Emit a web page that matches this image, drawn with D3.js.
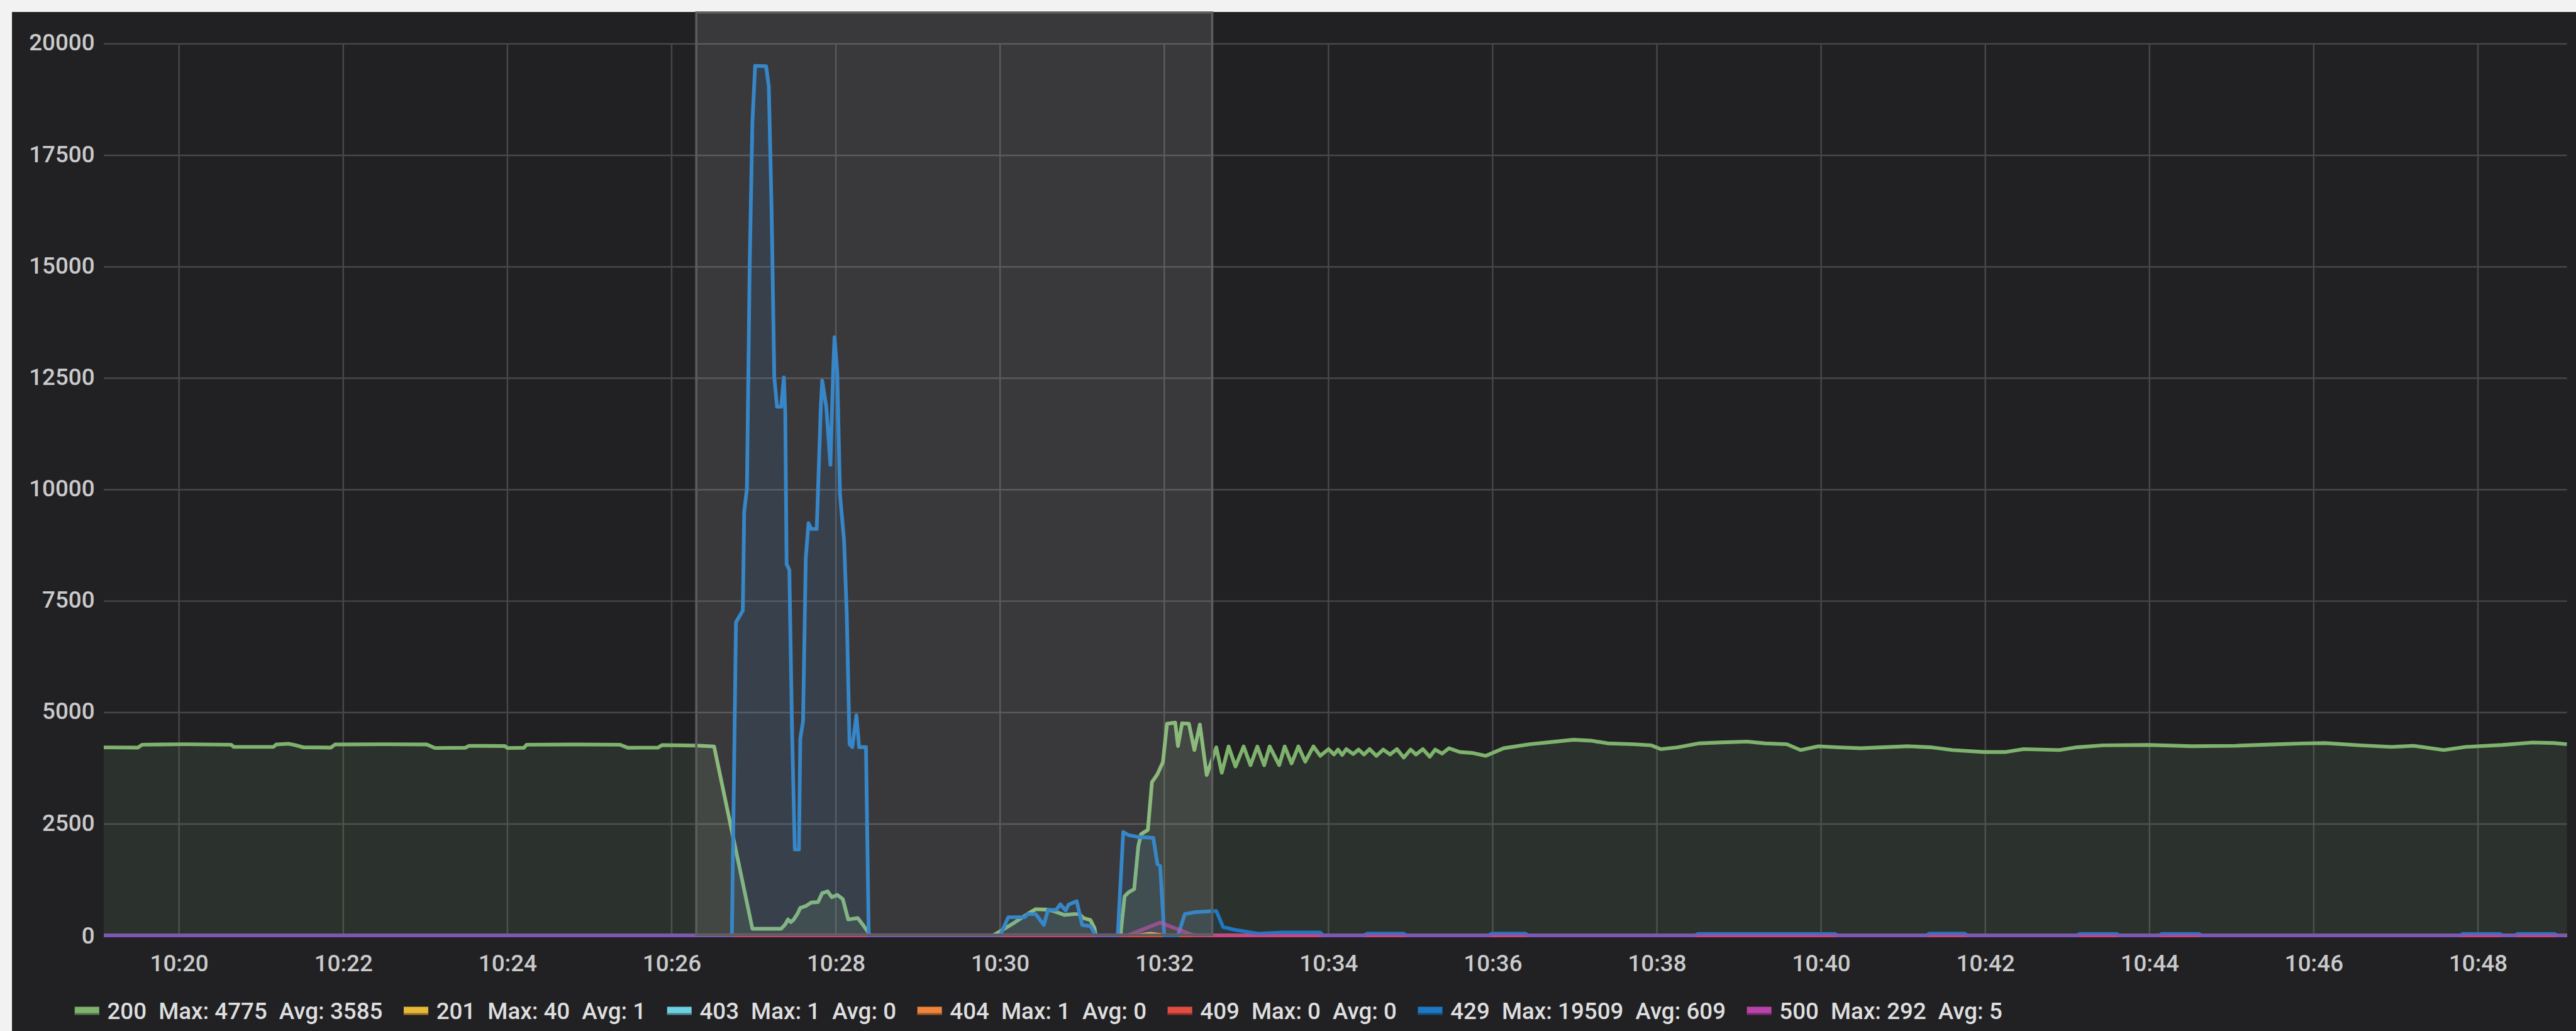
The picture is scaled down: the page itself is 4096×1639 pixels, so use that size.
<!DOCTYPE html>
<html lang="en">
<head>
<meta charset="UTF-8">
<title>HTTP status codes</title>
<script src="https://d3js.org/d3.v7.min.js"></script>
<style>
  html, body { margin: 0; padding: 0; background: #f2f2f2; overflow: hidden; }
  svg { display: block; }
  text { font-family: Roboto, "Helvetica Neue", Arial, sans-serif; }
</style>
</head>
<body>
<svg id="chart" width="4096" height="1639"></svg>
<script>

// series names, legend stats
var seriesNames = ["200", "201", "403", "404", "409", "429", "500"]
var legendMax = [4775, 40, 1, 1, 0, 19509, 292]
var legendAvg = [3585, 1, 0, 0, 0, 609, 5]
var palette = ["#7eb26d", "#eab839", "#6ed0e0", "#ef843c", "#e24d42", "#1f78c1", "#ba43a9"]

var timeRange = ["10:19:05", "10:49:05"]
var selection = ["10:26:18", "10:32:35"]
var yTicks = [0, 2500, 5000, 7500, 10000, 12500, 15000, 17500, 20000]

var s200 = [
  ["10:19:05", 4220], ["10:19:30", 4215], ["10:19:33", 4280], ["10:20:05", 4290], ["10:20:38", 4280],
  ["10:20:40", 4230], ["10:21:09", 4230], ["10:21:11", 4285], ["10:21:20", 4300], ["10:21:25", 4270],
  ["10:21:31", 4220], ["10:21:51", 4215], ["10:21:54", 4285], ["10:22:30", 4290], ["10:23:01", 4285],
  ["10:23:07", 4205], ["10:23:29", 4210], ["10:23:32", 4255], ["10:23:58", 4250], ["10:24:00", 4205],
  ["10:24:12", 4210], ["10:24:14", 4280], ["10:24:50", 4285], ["10:25:22", 4280], ["10:25:28", 4210],
  ["10:25:50", 4215], ["10:25:53", 4270], ["10:26:18", 4260], ["10:26:31", 4240],
  ["10:26:59", 150], ["10:27:20", 150], ["10:27:23", 250], ["10:27:25", 360], ["10:27:27", 300],
  ["10:27:29", 350], ["10:27:32", 490], ["10:27:34", 620], ["10:27:38", 660], ["10:27:42", 740],
  ["10:27:47", 750], ["10:27:50", 950], ["10:27:54", 990], ["10:27:57", 860], ["10:28:01", 910],
  ["10:28:05", 820], ["10:28:09", 360], ["10:28:16", 390], ["10:28:20", 230], ["10:28:23", 100],
  ["10:28:25", 0], ["10:29:55", 0], ["10:30:02", 130], ["10:30:11", 300], ["10:30:21", 500],
  ["10:30:26", 590], ["10:30:34", 580], ["10:30:39", 550], ["10:30:47", 460], ["10:30:54", 480],
  ["10:30:58", 480], ["10:31:01", 390], ["10:31:06", 345], ["10:31:09", 165], ["10:31:10", 0],
  ["10:31:28", 0], ["10:31:31", 880], ["10:31:34", 970], ["10:31:38", 1040], ["10:31:41", 2000],
  ["10:31:43", 2270], ["10:31:48", 2370], ["10:31:51", 3440], ["10:31:55", 3620], ["10:31:59", 3890],
  ["10:32:02", 4750], ["10:32:08", 4775], ["10:32:10", 4250], ["10:32:13", 4760], ["10:32:18", 4750],
  ["10:32:22", 4160], ["10:32:26", 4730], ["10:32:31", 3600], ["10:32:38", 4220], ["10:32:42", 3650],
  ["10:32:47", 4240], ["10:32:52", 3790], ["10:32:58", 4240], ["10:33:03", 3820], ["10:33:08", 4240],
  ["10:33:13", 3820], ["10:33:17", 4240], ["10:33:24", 3820], ["10:33:28", 4240], ["10:33:33", 3860],
  ["10:33:38", 4240], ["10:33:43", 3900], ["10:33:49", 4240], ["10:33:54", 4030], ["10:34:00", 4180],
  ["10:34:04", 4060], ["10:34:07", 4170], ["10:34:10", 4050], ["10:34:13", 4180], ["10:34:18", 4070],
  ["10:34:22", 4170], ["10:34:26", 4060], ["10:34:30", 4180], ["10:34:35", 4030], ["10:34:40", 4170],
  ["10:34:45", 4060], ["10:34:50", 4180], ["10:34:55", 3990], ["10:35:00", 4170], ["10:35:04", 4060],
  ["10:35:09", 4180], ["10:35:14", 4010], ["10:35:18", 4170], ["10:35:23", 4080], ["10:35:28", 4200],
  ["10:35:36", 4115], ["10:35:45", 4095], ["10:35:55", 4030], ["10:36:08", 4200], ["10:36:27", 4290],
  ["10:36:40", 4330], ["10:36:59", 4390], ["10:37:12", 4370], ["10:37:24", 4310], ["10:37:43", 4290],
  ["10:37:56", 4265], ["10:38:03", 4180], ["10:38:15", 4220], ["10:38:31", 4310], ["10:38:47", 4330],
  ["10:39:06", 4350], ["10:39:19", 4310], ["10:39:35", 4290], ["10:39:45", 4160], ["10:39:58", 4245],
  ["10:40:13", 4220], ["10:40:29", 4200], ["10:40:45", 4222], ["10:41:04", 4245], ["10:41:20", 4222],
  ["10:41:36", 4160], ["10:41:59", 4116], ["10:42:15", 4116], ["10:42:28", 4180], ["10:42:54", 4160],
  ["10:43:07", 4222], ["10:43:26", 4265], ["10:43:59", 4275], ["10:44:31", 4245], ["10:45:03", 4255],
  ["10:45:29", 4285], ["10:45:52", 4308], ["10:46:08", 4316], ["10:46:34", 4265], ["10:46:57", 4230],
  ["10:47:13", 4255], ["10:47:35", 4160], ["10:47:51", 4230], ["10:48:18", 4275], ["10:48:40", 4329],
  ["10:48:56", 4316], ["10:49:05", 4290]
]

var s201 = [["10:19:05", 0], ["10:31:40", 0], ["10:31:50", 40], ["10:32:00", 0], ["10:49:05", 0]]
var s403 = [["10:19:05", 0], ["10:27:25", 0], ["10:27:30", 1], ["10:27:35", 0], ["10:49:05", 0]]
var s404 = [["10:19:05", 0], ["10:31:50", 0], ["10:31:55", 1], ["10:32:00", 0], ["10:49:05", 0]]
var s409 = [["10:19:05", 0], ["10:49:05", 0]]

var s429 = [
  ["10:19:05", 0], ["10:26:44", 0], ["10:26:47", 7025], ["10:26:52", 7290], ["10:26:53", 9500],
  ["10:26:55", 10030], ["10:26:57", 15000], ["10:26:59", 18260], ["10:27:01", 19509], ["10:27:09", 19500],
  ["10:27:11", 19040], ["10:27:13", 16300], ["10:27:15", 12520], ["10:27:17", 11860], ["10:27:20", 11860],
  ["10:27:22", 12520], ["10:27:23", 11730], ["10:27:24", 8330], ["10:27:26", 8200], ["10:27:28", 4555],
  ["10:27:30", 1930], ["10:27:33", 1930], ["10:27:34", 4415], ["10:27:36", 4810], ["10:27:38", 8470],
  ["10:27:40", 9250], ["10:27:42", 9120], ["10:27:46", 9120], ["10:27:49", 11860], ["10:27:50", 12450],
  ["10:27:53", 11860], ["10:27:56", 10560], ["10:27:58", 12640], ["10:27:59", 13420], ["10:28:01", 12640],
  ["10:28:03", 9900], ["10:28:06", 8850], ["10:28:08", 7166], ["10:28:10", 4290], ["10:28:12", 4225],
  ["10:28:15", 4940], ["10:28:17", 4225], ["10:28:22", 4225], ["10:28:24", 0],
  ["10:30:00", 0], ["10:30:06", 410], ["10:30:18", 410], ["10:30:20", 480], ["10:30:26", 480],
  ["10:30:32", 235], ["10:30:35", 575], ["10:30:41", 575], ["10:30:44", 700], ["10:30:48", 560],
  ["10:30:50", 690], ["10:30:56", 770], ["10:31:00", 235], ["10:31:06", 210], ["10:31:10", 0],
  ["10:31:26", 0], ["10:31:30", 2320], ["10:31:34", 2250], ["10:31:41", 2210], ["10:31:52", 2190],
  ["10:31:55", 1600], ["10:31:57", 1560], ["10:32:00", 0], ["10:32:10", 0], ["10:32:15", 480],
  ["10:32:23", 525], ["10:32:38", 550], ["10:32:43", 190], ["10:32:51", 130], ["10:33:09", 40],
  ["10:33:25", 65], ["10:33:54", 65], ["10:33:56", 0], ["10:34:26", 0], ["10:34:28", 40],
  ["10:34:55", 40], ["10:34:57", 0], ["10:35:57", 0], ["10:35:59", 40], ["10:36:24", 40],
  ["10:36:26", 0], ["10:38:28", 0], ["10:38:30", 35], ["10:40:10", 35], ["10:40:12", 0],
  ["10:41:17", 0], ["10:41:19", 40], ["10:41:45", 40], ["10:41:47", 0], ["10:43:07", 0],
  ["10:43:09", 35], ["10:43:36", 35], ["10:43:38", 0], ["10:44:07", 0], ["10:44:09", 35],
  ["10:44:36", 35], ["10:44:38", 0], ["10:47:47", 0], ["10:47:49", 35], ["10:48:16", 35],
  ["10:48:18", 0], ["10:48:27", 0], ["10:48:29", 35], ["10:48:56", 35], ["10:48:58", 0],
  ["10:49:05", 0]
]

var s500 = [["10:19:05", 0], ["10:31:33", 0], ["10:31:57", 292], ["10:32:22", 0], ["10:49:05", 0]]

var seriesData = [s200, s201, s403, s404, s409, s429, s500]

// layout, in reference pixels; the whole thing is scaled down to the window
var refW = 4517, refH = 1808
var k = 4096 / refW
var panel = { left: 21, top: 21 }
var plot = { left: 182, right: 4501, top: 77, bottom: 1640 }

var parse = d3.timeParse("%H:%M:%S")

function draw() {
    var svg = d3.select('#chart')
    var root = svg.append('g').attr('transform', `scale(${k})`)

    root.append('rect')
        .attr('x', panel.left).attr('y', panel.top)
        .attr('width', refW - panel.left).attr('height', refH - panel.top)
        .attr('fill', '#212124')

    var x = d3.scaleTime()
        .domain(timeRange.map(parse))
        .range([plot.left, plot.right])

    var y = d3.scaleLinear()
        .domain([0, 20000])
        .range([plot.bottom, plot.top])

    var xTicks = d3.timeMinute.every(2).range(parse("10:20:00"), parse("10:48:30"))

    // grid
    var grid = root.append('g')
        .attr('stroke', '#474748')
        .attr('stroke-width', 2.7)
    grid.selectAll('line.h').data(yTicks).enter().append('line')
        .attr('x1', plot.left).attr('x2', plot.right)
        .attr('y1', d => y(d)).attr('y2', d => y(d))
    grid.selectAll('line.v').data(xTicks).enter().append('line')
        .attr('x1', d => x(d)).attr('x2', d => x(d))
        .attr('y1', plot.top).attr('y2', plot.bottom)

    // axis labels
    var yAxis = d3.axisLeft(y).tickValues(yTicks).tickFormat(d3.format("d")).tickSize(0).tickPadding(16)
    var gy = root.append('g')
        .attr('transform', `translate(${plot.left},0)`)
        .call(yAxis)
    gy.select('.domain').remove()
    gy.selectAll('text')
        .attr('fill', '#cacaca')
        .attr('font-size', 40.5)
        .attr('font-weight', 500)
        .attr('font-family', 'Roboto, Arial, sans-serif')
        .attr('dy', '0.35em')
        .attr('y', d => d === 0 ? 0 : -3)

    var xAxis = d3.axisBottom(x).tickValues(xTicks).tickFormat(d3.timeFormat("%H:%M")).tickSize(0).tickPadding(0)
    var gx = root.append('g')
        .attr('transform', `translate(0,${plot.bottom})`)
        .call(xAxis)
    gx.select('.domain').remove()
    gx.selectAll('text')
        .attr('fill', '#cacaca')
        .attr('font-size', 40.5)
        .attr('font-weight', 500)
        .attr('font-family', 'Roboto, Arial, sans-serif')
        .attr('dy', null)
        .attr('y', 63)

    // series: fill then line, in legend order
    var area = d3.area()
        .x(d => x(parse(d[0])))
        .y0(y(0))
        .y1(d => y(d[1]))
    var line = d3.line()
        .x(d => x(parse(d[0])))
        .y(d => y(d[1]))

    seriesData.forEach((data, i) => {
        var g = root.append('g')
        g.append('path')
            .attr('d', area(data))
            .attr('fill', palette[i])
            .attr('fill-opacity', 0.11)
        g.append('path')
            .attr('d', line(data))
            .attr('fill', 'none')
            .attr('stroke', palette[i])
            .attr('stroke-width', 6.5)
            .attr('stroke-opacity', seriesNames[i] === '500' ? 0.6 : 1)
            .attr('stroke-linejoin', 'round')
    })

    // selection overlay
    root.append('rect')
        .attr('x', x(parse(selection[0])))
        .attr('y', panel.top + 1)
        .attr('width', x(parse(selection[1])) - x(parse(selection[0])))
        .attr('height', plot.bottom - panel.top - 2)
        .attr('fill', '#ffffff')
        .attr('fill-opacity', 0.11)
        .attr('stroke', '#5c5c5c')
        .attr('stroke-width', 4)

    // legend
    var lx = 131
    var legend = root.append('g')
    seriesNames.forEach((name, i) => {
        var item = legend.append('g')
        item.append('rect')
            .attr('x', lx).attr('y', 1765)
            .attr('width', 43).attr('height', 14)
            .attr('fill', palette[i])
        item.append('rect')
            .attr('x', lx).attr('y', 1776)
            .attr('width', 43).attr('height', 3)
            .attr('fill', d3.color(palette[i]).darker(1.2))
        var t = item.append('text')
            .attr('x', lx + 57).attr('y', 1786)
            .attr('fill', '#dedede')
            .attr('font-size', 40.5)
            .attr('font-weight', 500)
        t.append('tspan').text(name)
        t.append('tspan').attr('dx', 21).text('Max: ' + legendMax[i])
        t.append('tspan').attr('dx', 21).text('Avg: ' + legendAvg[i])
        lx += 57 + t.node().getBBox().width + 37
    })
}

draw()

</script>
</body>
</html>
